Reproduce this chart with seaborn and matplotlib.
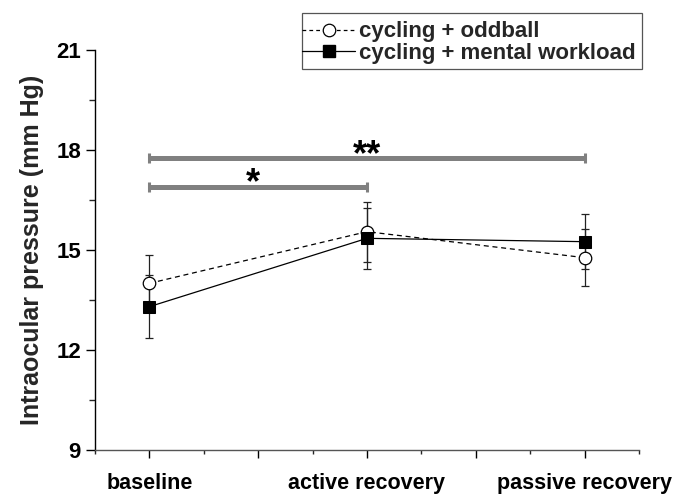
import matplotlib
matplotlib.use("Agg")
import matplotlib.pyplot as plt
import seaborn as sns
import numpy as np
from matplotlib.lines import Line2D
from matplotlib.patches import Rectangle

# ---- data ----
conditions = ["baseline", "active recovery", "passive recovery"]
x_pos = [1, 2, 3]
oddball_mean = [14.0, 15.55, 14.77]
oddball_sd = [0.85, 0.9, 0.85]
mental_mean = [13.3, 15.35, 15.25]
mental_sd = [0.94, 0.92, 0.82]

series_labels = ["cycling + oddball", "cycling + mental workload"]

# significance brackets
sig_start = [1, 1]
sig_end = [3, 2]
sig_y = [17.75, 16.9]
sig_text = ["**", "*"]
sig_text_x = [2.0, 1.475]

# ---- style ----
sns.set_theme(style="ticks")
plt.rcParams["font.family"] = ["Liberation Sans", "DejaVu Sans"]
plt.rcParams["font.weight"] = "bold"
plt.rcParams["axes.labelweight"] = "bold"

W, H = 676, 495
fig = plt.figure(figsize=(W / 100, H / 100), dpi=100)
ax = fig.add_axes([95 / W, 45 / H, 544 / W, 400 / H])

# error bars
ax.errorbar(x_pos, oddball_mean, yerr=oddball_sd, fmt="none", ecolor="#222222",
            elinewidth=0.9, capsize=3, capthick=0.9, zorder=2)
ax.errorbar(x_pos, mental_mean, yerr=mental_sd, fmt="none", ecolor="#222222",
            elinewidth=0.9, capsize=3, capthick=0.9, zorder=2)

# lines
sns.lineplot(x=x_pos, y=oddball_mean, ax=ax, color="black", linestyle=(0, (4, 3)),
             linewidth=0.9, marker="o", markersize=9, markerfacecolor="white",
             markeredgecolor="black", markeredgewidth=0.9, zorder=3)
sns.lineplot(x=x_pos, y=mental_mean, ax=ax, color="black", linestyle="-",
             linewidth=0.9, marker="s", markersize=8, markerfacecolor="black",
             markeredgecolor="black", zorder=4)

# significance bars
for xs, xe, yy, txt, tx in zip(sig_start, sig_end, sig_y, sig_text, sig_text_x):
    ax.plot([xs, xe], [yy, yy], color="#808080", lw=3.6, solid_capstyle="butt", zorder=1)
    ax.plot([xs, xe], [yy, yy], color="#808080", lw=0, marker="|", markersize=7.5,
            markeredgewidth=2.2, zorder=1)
    ax.annotate(txt, xy=(tx, yy), xytext=(0, -5), textcoords="offset points",
                ha="center", va="baseline", fontsize=26, fontweight="bold", color="black")

# axes
ax.set_xlim(0.75, 3.25)
ax.set_ylim(9, 21)
ax.set_yticks([9, 12, 15, 18, 21])
ax.set_yticks(np.arange(10.5, 21, 3), minor=True)
ax.set_xticks([1, 1.5, 2, 2.5, 3])
ax.set_xticklabels([conditions[0], "", conditions[1], "", conditions[2]])
ax.set_xticks(np.arange(0.75, 3.3, 0.5), minor=True)
ax.tick_params(axis="y", which="major", length=6.5, width=1, labelsize=16, pad=3.5, colors="black")
ax.tick_params(axis="y", which="minor", length=4, width=1)
ax.tick_params(axis="x", which="major", length=5.8, width=1, labelsize=15.5, pad=11, colors="black")
ax.tick_params(axis="x", which="minor", length=3, width=1)
for lab in ax.get_xticklabels() + ax.get_yticklabels():
    lab.set_fontweight("bold")
ax.set_ylabel("Intraocular pressure (mm Hg)", fontsize=18, fontweight="bold", labelpad=9)
ax.set_xlabel("")
sns.despine(ax=ax)
ax.spines["left"].set_color("black")
ax.spines["bottom"].set_color("#555555")
ax.spines["left"].set_linewidth(1)
ax.spines["bottom"].set_linewidth(1)

# legend
handles = [
    Line2D([], [], color="black", linestyle=(0, (3, 2.5)), linewidth=0.9, marker="o",
           markersize=9, markerfacecolor="white", markeredgecolor="black", markeredgewidth=0.9),
    Line2D([], [], color="black", linestyle="-", linewidth=0.9, marker="s",
           markersize=8, markerfacecolor="black"),
]
leg = fig.legend(handles, series_labels, loc="center left",
                 bbox_to_anchor=(302 / W, 1 - 42.5 / H), bbox_transform=fig.transFigure,
                 frameon=False, prop={"size": 16, "weight": "bold"}, handlelength=2.4,
                 handletextpad=0.15, borderpad=0.0, labelspacing=0.0, borderaxespad=0)
fig.patches.append(Rectangle((302 / W, 1 - 69 / H), 340 / W, 56 / H,
                             transform=fig.transFigure, fill=False,
                             edgecolor="#555555", linewidth=0.9))

fig.savefig("out.png", dpi=100)
